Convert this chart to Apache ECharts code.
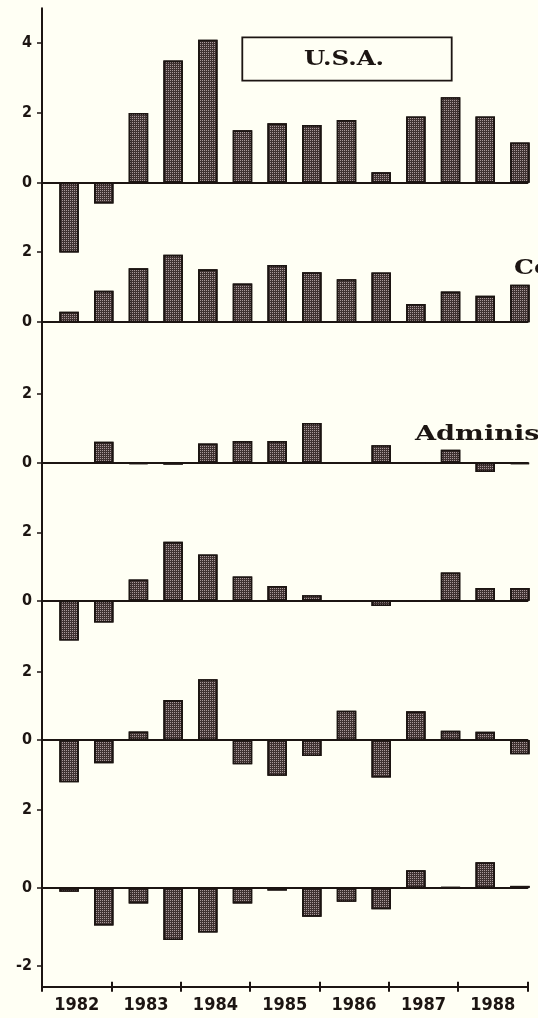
<!DOCTYPE html>
<html>
<head>
<meta charset="utf-8">
<script src="https://cdn.jsdelivr.net/npm/echarts@6/dist/echarts.min.js"></script>
<style>
html,body{margin:0;padding:0;background:#fffff4;}
#chart{width:538px;height:1018px;}
</style>
</head>
<body>
<div id="chart"></div>
<script>
// ---- data ----
const years = ['1982', '1983', '1984', '1985', '1986', '1987', '1988'];
const halfYears = ['1982 I', '1982 II', '1983 I', '1983 II', '1984 I', '1984 II', '1985 I', '1985 II',
                   '1986 I', '1986 II', '1987 I', '1987 II', '1988 I', '1988 II'];
const usaValues    = [-2.0, -0.6, 2.0, 3.5, 4.1, 1.5, 1.7, 1.65, 1.8, 0.3, 1.9, 2.45, 1.9, 1.15];
const panel2Values = [0.30, 0.89, 1.53, 1.91, 1.50, 1.10, 1.62, 1.42, 1.22, 1.41, 0.52, 0.87, 0.75, 1.06];
const panel3Values = [0.0, 0.61, -0.03, -0.05, 0.56, 0.63, 0.63, 1.15, 0.0, 0.51, -0.02, 0.38, -0.26, -0.03];
const panel4Values = [-1.17, -0.64, 0.62, 1.72, 1.35, 0.71, 0.43, 0.16, -0.02, -0.16, -0.02, 0.82, 0.37, 0.37];
const panel5Values = [-1.24, -0.68, 0.25, 1.17, 1.78, -0.71, -1.05, -0.47, 0.86, -1.10, 0.84, 0.27, 0.24, -0.42];
const panel6Values = [-0.10, -0.97, -0.40, -1.34, -1.15, -0.40, -0.07, -0.74, -0.36, -0.55, 0.45, 0.01, 0.66, 0.05];
const panelTicks = [[0, 2, 4], [0, 2], [0, 2], [0, 2], [0, 2], [-2, 0, 2]];
const titleText = 'U.S.A.';
const label2Text = 'Co';
const label3Text = 'Adminis';

const panelValues = [usaValues, panel2Values, panel3Values, panel4Values, panel5Values, panel6Values];

// ---- layout (pixels / axis extents) ----
const panelLayout = [
  { top: 8.3,   bottom: 251.7, min: -1.98, max: 5 },
  { top: 251.7, bottom: 393.5, min: -2.02, max: 2 },
  { top: 393.5, bottom: 532.3, min: -2.0,  max: 2 },
  { top: 532.3, bottom: 671.7, min: -2.08, max: 2 },
  { top: 671.7, bottom: 810,   min: -2.05, max: 2 },
  { top: 810,   bottom: 986.7, min: -2.54, max: 2 }
];
const INK = '#1c1512';
const LEFT = 42, RIGHT = 10.5;
const numFont = "'Liberation Sans Narrow','DejaVu Sans Condensed','Liberation Sans',Arial,sans-serif";

const grids = [], xAxes = [], yAxes = [], series = [];
panelLayout.forEach((p, i) => {
  grids.push({ left: LEFT, right: RIGHT, top: p.top, height: p.bottom - p.top, containLabel: false });
  const xi = xAxes.length;
  xAxes.push({
    gridIndex: i, type: 'category', data: halfYears, boundaryGap: true,
    axisLine: { show: true, onZero: true, lineStyle: { color: INK, width: 2 } },
    axisTick: { show: false }, axisLabel: { show: false }, splitLine: { show: false }
  });
  yAxes.push({
    gridIndex: i, type: 'value', min: p.min, max: p.max,
    axisLine: { show: true, onZero: false, lineStyle: { color: INK, width: 2 } },
    axisTick: { show: true, length: 5, customValues: panelTicks[i], lineStyle: { color: INK, width: 1.5 } },
    axisLabel: { show: true, customValues: panelTicks[i], margin: 10, color: INK,
                 fontFamily: numFont, fontWeight: 'bold', fontSize: 16 },
    splitLine: { show: false }
  });
  series.push({
    type: 'bar', xAxisIndex: xi, yAxisIndex: i, data: [], barWidth: 19.5, barGap: '0%', silent: true
  });
  series.push({
    type: 'bar', xAxisIndex: xi, yAxisIndex: i, data: panelValues[i], barWidth: 19.5, barGap: '0%',
    clip: false, silent: true,
    itemStyle: {
      color: '#3f3231', borderColor: INK, borderWidth: 1.6,
      decal: { symbol: 'rect', symbolSize: 1, color: '#a8999a', dashArrayX: [1, 1], dashArrayY: [1, 1] }
    }
  });
});
// bottom year axis (labels and year ticks)
xAxes.push({
  gridIndex: 5, type: 'category', data: years, boundaryGap: true, position: 'bottom',
  axisLine: { show: true, onZero: false, lineStyle: { color: INK, width: 2 } },
  axisTick: { show: true, length: 5, lineStyle: { color: INK, width: 2 } },
  axisLabel: { show: true, margin: 10, color: INK, fontFamily: numFont, fontWeight: 'bold', fontSize: 18 },
  splitLine: { show: false }
});
xAxes.push({
  gridIndex: 5, type: 'category', data: years, boundaryGap: true, position: 'bottom',
  axisLine: { show: false, onZero: false },
  axisTick: { show: true, inside: true, length: 5, lineStyle: { color: INK, width: 2 } },
  axisLabel: { show: false }, splitLine: { show: false }
});

const chart = echarts.init(document.getElementById('chart'), null, { renderer: 'canvas' });
chart.setOption({
  backgroundColor: '#fffff4',
  animation: false,
  grid: grids,
  xAxis: xAxes,
  yAxis: yAxes,
  series: series,
  graphic: [
    { type: 'rect', x: 242.3, y: 37.3,
      shape: { x: 0, y: 0, width: 209.4, height: 43.4 },
      style: { fill: 'none', stroke: INK, lineWidth: 1.8 }, z: 10 },
    { type: 'text', x: 344, y: 60, scaleX: 1.22, z: 11,
      style: { text: titleText, fill: INK, font: "bold 20px 'DejaVu Serif', serif",
               textAlign: 'center', textVerticalAlign: 'middle' } },
    { type: 'text', x: 514, y: 268.5, scaleX: 1.25, z: 11,
      style: { text: label2Text, fill: INK, font: "bold 20px 'DejaVu Serif', serif",
               textAlign: 'left', textVerticalAlign: 'middle' } },
    { type: 'text', x: 415, y: 434.5, scaleX: 1.36, z: 11,
      style: { text: label3Text, fill: INK, font: "bold 20px 'DejaVu Serif', serif",
               textAlign: 'left', textVerticalAlign: 'middle' } }
  ]
});
</script>
</body>
</html>
